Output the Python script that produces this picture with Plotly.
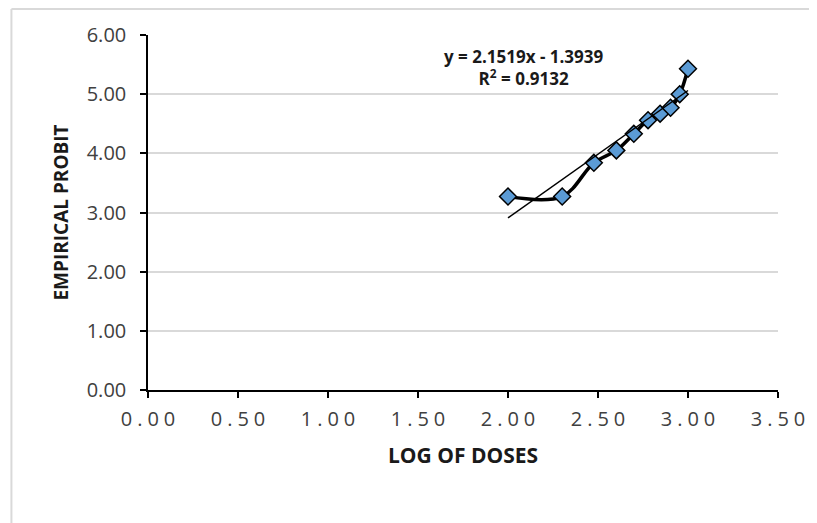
import plotly.graph_objects as go

# ---- data ----
log_doses = [2.000, 2.301, 2.477, 2.602, 2.699, 2.778, 2.845, 2.903, 2.954, 3.000]
empirical_probit = [3.27, 3.27, 3.84, 4.05, 4.33, 4.56, 4.67, 4.77, 5.00, 5.43]
trend_slope = 2.1519
trend_intercept = -1.3939
trend_r2 = 0.9132
x_tick_values = [0.0, 0.5, 1.0, 1.5, 2.0, 2.5, 3.0, 3.5]
x_tick_labels = ["0.00", "0.50", "1.00", "1.50", "2.00", "2.50", "3.00", "3.50"]
y_tick_values = [0, 1, 2, 3, 4, 5, 6]
y_tick_labels = ["0.00", "1.00", "2.00", "3.00", "4.00", "5.00", "6.00"]

# letter-spaced x tick labels (styling only)
x_tick_text = ["\u2005".join(s) for s in x_tick_labels]

trend_x = [min(log_doses), max(log_doses)]
trend_y = [trend_slope * v + trend_intercept for v in trend_x]

fig = go.Figure()
fig.add_trace(go.Scatter(
    x=log_doses, y=empirical_probit, mode="lines+markers",
    line=dict(color="black", width=3.5, shape="spline", smoothing=1),
    marker=dict(symbol="diamond", size=13, color="#5B9BD5",
                line=dict(color="black", width=1.5)),
    showlegend=False, hoverinfo="x+y",
))
fig.add_trace(go.Scatter(
    x=trend_x, y=trend_y, mode="lines",
    line=dict(color="black", width=1.5),
    showlegend=False, hoverinfo="skip",
))

sign = "-" if trend_intercept < 0 else "+"
eq_text = (f"<b>y = {trend_slope:.4f}x {sign} {abs(trend_intercept):.4f}</b><br>"
           f"<b>R<sup>2</sup> = {trend_r2:.4f}</b>")
fig.add_annotation(
    x=2.09, y=5.45, xref="x", yref="y", text=eq_text, showarrow=False,
    font=dict(family="Open Sans", size=17, color="#1a1a1a"), align="center",
)

# chart-area border: only its left and top edges fall inside the picture
L, R, T, B = 140, 37, 27, 133
W, H = 809, 515
pw, ph = W - L - R, H - T - B
bx0 = (3 - L) / pw
by1 = (H - B - 1) / ph
fig.add_shape(type="line", xref="paper", yref="paper",
              x0=bx0, x1=bx0, y0=-(B + 20) / ph, y1=by1,
              line=dict(color="#d9d9d9", width=2), layer="below")
fig.add_shape(type="line", xref="paper", yref="paper",
              x0=bx0, x1=(W + 20 - L) / pw, y0=by1, y1=by1,
              line=dict(color="#d9d9d9", width=2), layer="below")

fig.update_layout(
    width=W, height=H,
    margin=dict(l=L, r=R, t=T, b=B),
    paper_bgcolor="white", plot_bgcolor="white",
    font=dict(family="Open Sans", color="#404040"),
    xaxis=dict(
        range=[0, 3.5], tickmode="array", tickvals=x_tick_values, ticktext=x_tick_text,
        showgrid=False, zeroline=False, showline=True, linecolor="black", linewidth=1.5,
        ticks="outside", ticklen=6, tickwidth=1.5, tickcolor="black",
        tickfont=dict(family="Open Sans", size=20, color="#404040"),
        ticklabelstandoff=4,
        title=dict(text="<b>LOG OF DOSES</b>", standoff=18,
                   font=dict(family="Open Sans", size=21, color="#1a1a1a")),
    ),
    yaxis=dict(
        range=[0, 6], tickmode="array", tickvals=y_tick_values, ticktext=y_tick_labels,
        showgrid=True, gridcolor="#d9d9d9", gridwidth=2,
        zeroline=False, showline=True, linecolor="black", linewidth=1.5,
        ticks="outside", ticklen=6, tickwidth=1.5, tickcolor="black",
        tickfont=dict(family="Open Sans", size=20, color="#404040"),
        ticklabelstandoff=10,
        title=dict(text="<b>EMPIRICAL PROBIT</b>", standoff=13,
                   font=dict(family="Open Sans", size=19, color="#1a1a1a")),
    ),
)

fig.write_html("out.html")
